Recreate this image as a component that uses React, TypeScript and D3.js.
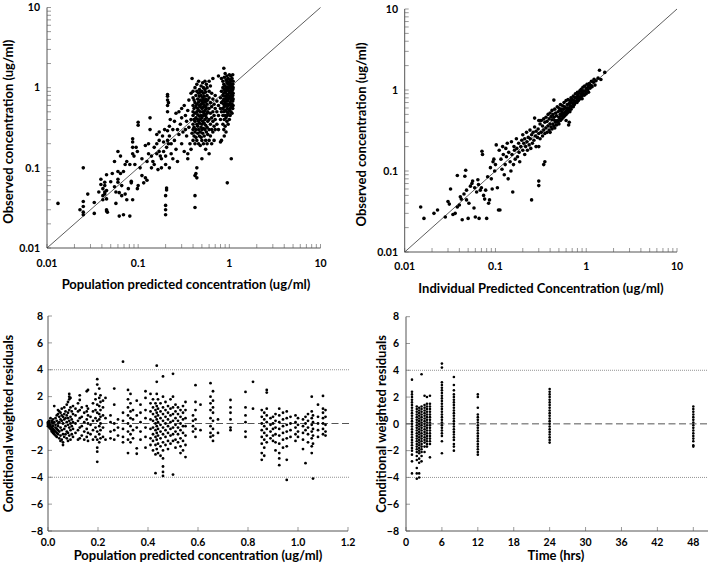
import React from "react";
import * as d3 from "d3";

// ---------- DATA ----------
const logTickLabels = ["0.01", "0.1", "1", "10"];
const logMajors = [0.01, 0.1, 1, 10];
const resTicks = [-8, -6, -4, -2, 0, 2, 4, 6, 8];
const popLinTicks = [0, 0.2, 0.4, 0.6, 0.8, 1.0, 1.2];
const timeTicks = [0, 6, 12, 18, 24, 30, 36, 42, 48];

// Panel 1: population predicted (x) vs observed (ys) columns
const popPredObs: [number, number[]][] = [
  [0.0132, [0.036]], [0.023, [0.03]], [0.025, [0.1, 0.038, 0.033, 0.028, 0.026]],
  [0.028, [0.047]], [0.033, [0.037, 0.027]], [0.037, [0.05]], [0.039, [0.072, 0.062]],
  [0.041, [0.055, 0.045, 0.04]], [0.043, [0.066, 0.05, 0.06, 0.047]],
  [0.045, [0.082, 0.03, 0.029, 0.041, 0.052]], [0.046, [0.028]], [0.05, [0.067]],
  [0.052, [0.085]], [0.055, [0.12, 0.058]], [0.057, [0.05, 0.036]],
  [0.06, [0.16, 0.09, 0.072, 0.066]], [0.062, [0.049, 0.025]], [0.064, [0.14, 0.085]],
  [0.066, [0.06, 0.045]], [0.069, [0.026, 0.09]], [0.072, [0.11, 0.047]],
  [0.075, [0.12, 0.04]], [0.078, [0.055]], [0.081, [0.11, 0.025]], [0.084, [0.068, 0.065]],
  [0.087, [0.15, 0.18, 0.21, 0.23, 0.04]], [0.09, [0.14]], [0.092, [0.11]], [0.095, [0.18]],
  [0.098, [0.16, 0.055]], [0.1, [0.37, 0.34, 0.06]],
  [0.105, [0.1]], [0.11, [0.13, 0.08]], [0.115, [0.065]], [0.12, [0.075, 0.19]],
  [0.125, [0.12, 0.07]], [0.13, [0.15, 0.2]], [0.135, [0.42, 0.3]], [0.14, [0.1, 0.14]],
  [0.145, [0.12]], [0.15, [0.18, 0.11]], [0.16, [0.26, 0.2, 0.15]], [0.165, [0.095]],
  [0.17, [0.16, 0.28, 0.22]], [0.175, [0.14]], [0.18, [0.13, 0.1]], [0.185, [0.25]],
  [0.19, [0.21, 0.16]], [0.195, [0.3]], [0.2, [0.11, 0.14, 0.034, 0.03, 0.026, 0.045]],
  [0.205, [0.053, 0.056, 0.18]], [0.21, [0.22, 0.29, 0.7, 0.82, 0.78, 0.6, 0.5]],
  [0.215, [0.65, 0.2]], [0.22, [0.1, 0.25, 0.33]], [0.225, [0.4]], [0.23, [0.2, 0.15]],
  [0.24, [0.13, 0.3]], [0.25, [0.38, 0.22]], [0.26, [0.17, 0.48]], [0.27, [0.3, 0.12]],
  [0.28, [0.26, 0.5]], [0.29, [0.35]], [0.3, [0.2, 0.42, 0.55]], [0.31, [0.28]],
  [0.32, [0.6, 0.16]], [0.33, [0.3, 0.45]], [0.34, [0.38, 0.25]], [0.35, [0.13, 0.15, 0.52]],
  [0.36, [0.7, 0.32]], [0.37, [0.2]], [0.38, [0.85, 0.4, 0.17]], [0.39, [1.3, 0.27]],
  [0.4, [0.22, 0.3, 0.45, 0.6, 0.75, 0.9, 0.35, 0.5]], [0.41, [0.25, 0.4, 0.55, 0.7, 0.32]],
  [0.42, [0.08, 0.045, 0.032, 0.2, 0.28, 0.38, 0.48, 0.65, 1.0]],
  [0.43, [0.085, 0.3, 0.42, 0.58, 0.8, 0.24]],
  [0.44, [0.075, 0.1, 0.22, 0.35, 0.5, 0.62, 0.9, 1.1]],
  [0.45, [0.27, 0.4, 0.55, 0.72, 0.33, 0.46]],
  [0.46, [0.2, 0.3, 0.38, 0.52, 0.66, 0.85, 1.2]],
  [0.47, [0.25, 0.36, 0.44, 0.6, 0.78, 0.95]],
  [0.48, [0.19, 0.28, 0.4, 0.5, 0.58, 0.7, 0.88]],
  [0.49, [0.32, 0.45, 0.62, 0.8, 1.05, 0.24]],
  [0.5, [0.13, 0.22, 0.35, 0.42, 0.55, 0.68, 0.9, 0.3]],
  [0.51, [0.27, 0.38, 0.5, 0.64, 0.75, 1.15]],
  [0.52, [0.2, 0.31, 0.45, 0.57, 0.7, 0.85, 1.0]],
  [0.53, [0.25, 0.36, 0.48, 0.6, 0.78]],
  [0.54, [0.3, 0.4, 0.52, 0.66, 0.95, 1.2]],
  [0.55, [0.17, 0.22, 0.34, 0.45, 0.58, 0.72, 0.88]],
  [0.56, [0.28, 0.42, 0.55, 0.68, 1.1]],
  [0.57, [0.2, 0.32, 0.48, 0.62, 0.8, 1.0]],
  [0.58, [0.26, 0.38, 0.5, 0.7]],
  [0.6, [0.15, 0.22, 0.3, 0.4, 0.55, 0.75, 0.9, 1.2]],
  [0.62, [0.25, 0.35, 0.48, 0.65, 1.05]],
  [0.64, [0.2, 0.3, 0.42, 0.58, 0.85]],
  [0.66, [0.28, 0.38, 0.5, 0.72, 1.3]],
  [0.68, [0.22, 0.33, 0.45, 0.62]],
  [0.7, [0.3, 0.4, 0.55, 0.8]],
  [0.73, [0.35, 0.5, 0.68]],
  [0.76, [0.3, 0.45, 0.6, 1.4]],
  [0.8, [0.21, 0.4, 0.55, 0.75]],
  [0.82, [0.22, 0.5, 0.65, 0.9, 1.3]],
  [0.85, [0.35, 0.45, 0.55, 0.68, 0.8, 1.0, 1.2]],
  [0.87, [0.3, 0.5, 0.62, 0.72, 0.85, 1.1, 1.75]],
  [0.88, [0.25, 0.4, 0.58, 0.7, 0.95, 1.35]],
  [0.9, [0.33, 0.45, 0.52, 0.65, 0.78, 0.9, 1.05, 1.5]],
  [0.92, [0.28, 0.42, 0.6, 0.72, 0.85, 1.0, 1.25]],
  [0.94, [0.38, 0.5, 0.62, 0.75, 0.92, 1.15, 1.4]],
  [0.95, [0.065, 0.45, 0.55, 0.68, 0.8, 1.0, 1.2]],
  [0.97, [0.35, 0.48, 0.6, 0.7, 0.82, 0.95, 1.1, 1.3]],
  [1.0, [0.4, 0.52, 0.62, 0.75, 0.88, 1.0, 1.15, 1.45]],
  [1.02, [0.45, 0.55, 0.65, 0.78, 0.9, 1.05, 1.25]],
  [1.04, [0.5, 0.6, 0.72, 0.85, 0.98, 1.1, 1.4]],
  [1.05, [0.13, 0.58, 0.7, 0.8, 0.92, 1.2]],
  [1.07, [0.48, 0.62, 0.75, 0.88, 1.02, 1.3]],
  [1.09, [0.55, 0.68, 0.8, 0.95, 1.1, 1.45]],
  [1.1, [0.6, 0.72, 0.85, 1.0, 1.2]],
];

// Panel 2: individual predicted vs observed pairs
const indPredObs: [number, number][] = [
  [0.015, 0.036], [0.0163, 0.026], [0.021, 0.03], [0.023, 0.033], [0.028, 0.027], [0.03, 0.042],
  [0.031, 0.039], [0.032, 0.06], [0.034, 0.029], [0.036, 0.03], [0.038, 0.088], [0.038, 0.036],
  [0.04, 0.038], [0.041, 0.048], [0.042, 0.045], [0.043, 0.025], [0.045, 0.052], [0.046, 0.086],
  [0.047, 0.102], [0.048, 0.044], [0.048, 0.058], [0.05, 0.026], [0.051, 0.04], [0.053, 0.065],
  [0.055, 0.07], [0.056, 0.075], [0.058, 0.035], [0.059, 0.062], [0.06, 0.027], [0.062, 0.055],
  [0.064, 0.078], [0.065, 0.068], [0.066, 0.026], [0.068, 0.058], [0.07, 0.062], [0.071, 0.175],
  [0.072, 0.16], [0.074, 0.05], [0.076, 0.045], [0.078, 0.058], [0.08, 0.026], [0.082, 0.085],
  [0.084, 0.04], [0.086, 0.044], [0.088, 0.11], [0.09, 0.08], [0.092, 0.06], [0.094, 0.13],
  [0.096, 0.14], [0.098, 0.1],
  [0.1, 0.12], [0.102, 0.21], [0.105, 0.062], [0.108, 0.033], [0.112, 0.033], [0.11, 0.18],
  [0.115, 0.14], [0.118, 0.105], [0.12, 0.2], [0.122, 0.16], [0.125, 0.09], [0.128, 0.12],
  [0.13, 0.19], [0.132, 0.15], [0.135, 0.22], [0.138, 0.08], [0.14, 0.17], [0.145, 0.13],
  [0.148, 0.1], [0.15, 0.23], [0.152, 0.16], [0.155, 0.055], [0.158, 0.12], [0.16, 0.2],
  [0.162, 0.18], [0.165, 0.14], [0.17, 0.25], [0.172, 0.19], [0.175, 0.15], [0.18, 0.22],
  [0.182, 0.17], [0.185, 0.13], [0.19, 0.2], [0.195, 0.24], [0.2, 0.18], [0.2, 0.28],
  [0.205, 0.22], [0.21, 0.16], [0.21, 0.25], [0.215, 0.2], [0.22, 0.3], [0.222, 0.23],
  [0.225, 0.18], [0.23, 0.26], [0.235, 0.21], [0.24, 0.32], [0.242, 0.25], [0.245, 0.19],
  [0.25, 0.044], [0.25, 0.28], [0.255, 0.22], [0.26, 0.3], [0.265, 0.24], [0.27, 0.35],
  [0.27, 0.45], [0.275, 0.27], [0.28, 0.2], [0.28, 0.31], [0.3, 0.066], [0.3, 0.075],
  [0.29, 0.26], [0.295, 0.33], [0.3, 0.42], [0.3, 0.29], [0.3, 0.2], [0.34, 0.12], [0.35, 0.13],
  [0.31, 0.42], [0.44, 0.75], [0.64, 0.37], [0.65, 0.4], [0.6, 0.42],
  [0.31, 0.25], [0.31, 0.38], [0.32, 0.3], [0.32, 0.42], [0.33, 0.27], [0.33, 0.36], [0.34, 0.32],
  [0.34, 0.44], [0.35, 0.29], [0.35, 0.4], [0.36, 0.34], [0.36, 0.46], [0.37, 0.3], [0.37, 0.41],
  [0.38, 0.36], [0.38, 0.5], [0.39, 0.32], [0.39, 0.44], [0.4, 0.3], [0.4, 0.38], [0.4, 0.52],
  [0.41, 0.35], [0.41, 0.47], [0.42, 0.33], [0.42, 0.43], [0.42, 0.56], [0.43, 0.38], [0.43, 0.5],
  [0.44, 0.36], [0.44, 0.46], [0.45, 0.34], [0.45, 0.42], [0.45, 0.58], [0.46, 0.4], [0.46, 0.52],
  [0.47, 0.37], [0.47, 0.48], [0.48, 0.42], [0.48, 0.62], [0.49, 0.4], [0.49, 0.54], [0.5, 0.38],
  [0.5, 0.46], [0.5, 0.6], [0.51, 0.44], [0.51, 0.56], [0.52, 0.42], [0.52, 0.5], [0.52, 0.66],
  [0.53, 0.48], [0.53, 0.58], [0.54, 0.44], [0.54, 0.54], [0.55, 0.5], [0.55, 0.64], [0.56, 0.46],
  [0.56, 0.58], [0.57, 0.52], [0.57, 0.7], [0.58, 0.48], [0.58, 0.62], [0.59, 0.54], [0.6, 0.5],
  [0.6, 0.6], [0.6, 0.74], [0.61, 0.56], [0.62, 0.52], [0.62, 0.66], [0.63, 0.6], [0.63, 0.76],
  [0.64, 0.56], [0.65, 0.68], [0.65, 0.6], [0.66, 0.54], [0.66, 0.74], [0.67, 0.64], [0.68, 0.58],
  [0.68, 0.8], [0.69, 0.7], [0.7, 0.62], [0.7, 0.76], [0.71, 0.68], [0.72, 0.84], [0.72, 0.62],
  [0.73, 0.74], [0.74, 0.66], [0.75, 0.8], [0.75, 0.7], [0.76, 0.9], [0.77, 0.72], [0.78, 0.82],
  [0.79, 0.7], [0.8, 0.78], [0.8, 0.94], [0.81, 0.86], [0.82, 0.74], [0.83, 0.92], [0.84, 0.82],
  [0.85, 0.98], [0.86, 0.78], [0.87, 0.9], [0.88, 1.02], [0.89, 0.84], [0.9, 0.96], [0.9, 0.78],
  [0.92, 1.08], [0.93, 0.9], [0.94, 0.98], [0.95, 0.86], [0.96, 1.12], [0.98, 0.96], [1.0, 1.04],
  [1.0, 0.9], [1.02, 1.18], [1.04, 1.0], [1.05, 1.1], [1.06, 0.94], [1.08, 1.2], [1.1, 1.05],
  [1.12, 1.14], [1.14, 1.28], [1.16, 1.1], [1.2, 1.25], [1.22, 1.36], [1.25, 1.15], [1.28, 1.3],
  [1.35, 1.4], [1.4, 1.75], [1.45, 1.35], [1.6, 1.65],
];

// Panel 3: population predicted (x) vs CWRES (ys) columns
const popPredCwres: [number, number[]][] = [
  [0.0, [0, -0.1, 0.1, -0.2]], [0.005, [-0.1, -0.3, 0.2, 0.05]], [0.01, [-0.2, -0.4, -0.1, 0.4]],
  [0.015, [-0.3, -0.5, -0.6, 0.1, 0.2]], [0.02, [-0.4, -0.7, -0.2, 0.3, 0.0]],
  [0.025, [-0.5, -0.8, -0.6, 0.1, 1.3]], [0.03, [-0.6, -0.9, -0.3, 0.4, -0.1]],
  [0.035, [-0.7, -0.4, 0.2, 0.6, -1.0]], [0.04, [-0.8, -0.5, -0.2, 0.0, 0.7, 1.0]],
  [0.045, [-1.1, -0.6, 0.1, 0.5, 0.9]], [0.05, [-0.9, -0.3, 0.3, 0.8, -1.3]],
  [0.055, [-1.2, -0.5, 0.2, 0.6, 1.1]], [0.06, [-1.6, -1.4, -0.8, 0.0, 0.5]],
  [0.065, [-1.0, -0.4, 0.3, 0.7, 1.2]], [0.07, [-0.8, -0.2, 0.4, 0.9]],
  [0.075, [-1.1, -0.6, 0.1, 0.6, 1.4]], [0.08, [-1.3, -0.7, -0.1, 0.4, 0.8, 1.6]],
  [0.085, [-0.9, -0.3, 0.2, 1.0, 1.8, 2.0, 2.2]], [0.09, [-1.2, -0.5, 0.0, 0.5, 1.2, 1.9]],
  [0.095, [-0.8, -0.2, 0.3, 0.9]], [0.1, [-1.0, -0.4, 0.1, 0.7, 1.3]],
  [0.11, [-0.7, 0.0, 0.6, 1.1]], [0.12, [-1.2, -0.5, 0.2, 0.9, 1.5]],
  [0.127, [-1.1, -0.3, 0.4, 1.0, 1.75, 2.1]], [0.135, [-0.9, -0.2, 0.5, 1.2]],
  [0.145, [-1.2, -0.6, 0.1, 0.8]], [0.155, [-1.0, -0.4, 0.3, 0.9, 1.3, 2.4]],
  [0.16, [-1.3, -0.7, 0.0, 0.6, 1.1, 2.5]], [0.17, [-0.8, -0.1, 0.5]],
  [0.18, [-1.2, -0.5, 0.2, 0.9, 1.5]], [0.19, [-1.0, -0.3, 0.4, 1.0, 1.8, 2.2]],
  [0.197, [3.3, 2.9, -1.8, -2.1, -2.85, -1.2, -0.6, 0.2, 0.8, 1.4]],
  [0.205, [2.6, 1.9, 1.3, 0.7, 0.3, -0.2, -0.8, -1.4]],
  [0.21, [2.1, 1.6, 1.0, 0.5, 0.0, -0.5, -1.1]], [0.22, [1.7, 1.2, 0.6, -0.3, -1.0]],
  [0.23, [1.9, -1.2, 0.4]], [0.25, [0.1, -0.6, -1.1, 0.6]], [0.265, [2.6, 1.4, 0.0, -0.5, -1.2]],
  [0.28, [-0.3, -0.9, 0.3]], [0.3, [4.6, 0.8, 0.2, -0.4, -1.0, -1.4]],
  [0.32, [2.5, 1.8, 1.2, 0.6, 0.0, -0.6, -1.2, -2.2]],
  [0.33, [2.2, 1.5, 0.9, 0.4, -0.2, -0.8, -1.4]], [0.34, [1.0, 0.3, -0.5, -1.1]],
  [0.355, [1.7, 0.6, -0.3, -1.85, -2.25]], [0.37, [1.4, 0.8, 0.1, -0.6, -1.2]],
  [0.39, [2.4, 1.9, 1.0, 0.4, -0.3, -1.0, -1.8]], [0.41, [2.2, 1.5, 0.9, 0.3, -0.4, -1.1, -1.6]],
  [0.42, [1.8, 1.2, 0.7, 0.2, -0.3, -0.8, -1.3, -2.0]],
  [0.43, [1.5, 1.0, 0.5, 0.0, -0.5, -1.0, -1.6, -2.3, -3.7]],
  [0.435, [4.3, 3.1, 2.2, 1.3, 0.8, 0.3, -0.2, -0.7, -1.2, -1.9]],
  [0.44, [1.8, 1.1, 0.6, 0.1, -0.4, -0.9, -1.5, -2.2]],
  [0.45, [1.5, 0.9, 0.4, -0.1, -0.6, -1.1, -1.7, -2.4]],
  [0.46, [3.5, 2.0, 1.2, 0.7, 0.2, -0.3, -0.8, -1.4, -2.0, -2.6, -3.2, -3.6, -3.9]],
  [0.47, [1.6, 1.0, 0.5, 0.0, -0.5, -1.0, -1.6]], [0.48, [1.3, 0.8, 0.3, -0.2, -0.7, -1.3, -1.9]],
  [0.49, [1.8, 1.1, 0.6, 0.1, -0.4, -0.9, -1.5]],
  [0.5, [3.7, 2.0, 1.2, 0.7, 0.2, -0.3, -0.8, -1.3, -3.8]],
  [0.51, [1.4, 0.9, 0.4, -0.1, -0.6, -1.2, -1.8]], [0.52, [1.2, 0.7, 0.2, -0.3, -0.8, -1.4]],
  [0.53, [1.0, 0.5, 0.0, -0.5, -1.1, -1.7, -2.2]], [0.54, [1.3, 0.8, 0.3, -0.2, -0.7, -1.3, -2.0]],
  [0.55, [1.6, 1.0, 0.4, -0.2, -0.9, -1.6, -2.5]], [0.58, [0.6, 0.2, -0.2, -0.6]],
  [0.59, [2.85, 1.6, 1.0, 0.3, -0.4, -1.0]], [0.61, [1.4, -0.5]],
  [0.65, [3.0, 2.0, 1.5, 1.0, 0.4, -0.2, -0.7, -1.0]],
  [0.66, [2.4, 1.7, 1.2, 0.8, 0.2, -0.4, -0.9, -1.3]], [0.68, [0.3, -0.7]],
  [0.73, [1.75, 1.2, 0.8, 0.3, -0.3, -0.5]], [0.79, [2.35, 1.2, 0.6, 0.1, -0.6, -1.0]],
  [0.82, [3.1, 1.1]], [0.855, [1.0, 0.5, 0.0, -0.5, -1.0, -1.5, -2.2, -2.7]],
  [0.865, [0.8, 0.3, -0.2, -0.7, -1.2, -1.8, -2.4]],
  [0.875, [2.5, 2.3, 1.1, 0.6, 0.1, -0.4, -0.9, -1.4]], [0.89, [0.4, -0.1, -0.6, -1.1]],
  [0.9, [0.5, 0.0, -0.4, -0.9, -1.3]], [0.91, [0.7, 0.2, -0.3, -0.8, -1.4, -2.0]],
  [0.925, [1.1, 0.6, 0.1, -0.4, -0.9, -1.5, -2.2, -2.6, -3.1]],
  [0.94, [0.8, 0.3, -0.2, -0.7, -1.2, -1.8]],
  [0.955, [0.9, 0.4, -0.1, -0.6, -1.1, -1.7, -2.7, -4.2]], [0.97, [0.5, 0.0, -0.5, -1.0]],
  [0.99, [0.6, 0.1, -0.3, -0.8, -1.3]], [1.0, [0.4, -0.1, -0.6, -1.0]],
  [1.02, [0.3, -0.2, -0.7, -1.2, -1.9]], [1.03, [0.5, 0.0, -0.5, -2.95]],
  [1.04, [0.7, 0.2, -0.3, -0.8, -1.4]], [1.055, [2.0, 0.9, 0.4, -0.1, -0.6, -1.1, -1.7, -2.2]],
  [1.06, [0.6, 0.1, -0.4, -0.9, -1.5, -4.1]], [1.08, [1.4, 0.5, 0.0, -0.5, -1.0]],
  [1.1, [2.05, 1.1, 0.8, 0.4, 0.0, -0.4, -0.8]], [1.11, [1.0, 0.5, -0.1, -0.6, -0.9]],
];

// Panel 4: time (x) vs CWRES (ys) columns
const timeCwres: [number, number[]][] = [
  [1.0, [3.3, 2.4, 2.2, 2.0, 1.8, 1.6, 1.4, 1.2, 1.0, 0.8, 0.6, 0.4, 0.2, 0.0, -0.2, -0.4, -0.6, -0.8, -1.0, -1.2, -1.4, -1.6, -1.8, -2.0, -2.3, -2.8, -3.7]],
  [1.8, [1.3, 1.1, 0.9, 0.7, 0.5, 0.3, 0.1, -0.1, -0.3, -0.5, -0.7, -0.9, -1.1, -1.3, -1.5, -1.7, -1.9, -2.1, -2.4, -2.7, -3.3, -3.7, -4.1]],
  [2.2, [1.2, 1.0, 0.8, 0.6, 0.4, 0.2, 0.0, -0.2, -0.4, -0.6, -0.8, -1.0, -1.2, -1.4, -1.6, -1.8, -2.0, -2.2, -2.6, -2.9, -3.7, -4.0]],
  [2.6, [3.7, 1.3, 1.1, 0.9, 0.7, 0.5, 0.3, 0.1, -0.1, -0.3, -0.5, -0.7, -0.9, -1.1, -1.3, -1.5, -1.7, -1.9, -2.1, -2.4, -2.8]],
  [3.1, [2.1, 1.4, 1.2, 1.0, 0.8, 0.6, 0.4, 0.2, 0.0, -0.2, -0.4, -0.6, -0.8, -1.0, -1.2, -1.4, -1.7, -2.1]],
  [3.5, [2.0, 1.5, 1.3, 1.1, 0.9, 0.7, 0.5, 0.3, 0.1, -0.1, -0.3, -0.5, -0.7, -0.9, -1.1, -1.3, -1.5, -1.7]],
  [4.0, [2.1, 1.5, 1.3, 1.1, 0.9, 0.7, 0.5, 0.3, 0.1, -0.1, -0.3, -0.5, -0.7, -0.9, -1.1, -1.3, -1.5, -2.5]],
  [6.0, [4.5, 4.2, 3.1, 2.9, 2.7, 2.5, 2.3, 2.1, 1.9, 1.7, 1.5, 1.3, 1.1, 0.9, 0.7, 0.5, 0.3, 0.1, -0.1, -0.3, -0.5, -0.7, -0.9, -1.3, -2.2]],
  [8.0, [3.5, 2.9, 2.5, 2.2, 2.0, 1.8, 1.6, 1.4, 1.2, 1.0, 0.8, 0.6, 0.4, 0.2, 0.0, -0.2, -0.4, -0.6, -0.8, -1.0, -1.2, -1.5, -1.7, -2.0]],
  [12.0, [2.2, 2.0, 1.2, 0.7, 0.5, 0.3, 0.1, -0.1, -0.3, -0.5, -0.7, -0.9, -1.1, -1.3, -1.5, -1.7, -1.9, -2.1, -2.3]],
  [24.0, [2.6, 2.4, 2.2, 2.0, 1.8, 1.6, 1.4, 1.2, 1.0, 0.8, 0.6, 0.4, 0.2, 0.0, -0.2, -0.4, -0.6, -0.8, -1.0, -1.2, -1.4]],
  [48.0, [1.3, 1.1, 0.9, 0.7, 0.5, 0.3, 0.1, -0.1, -0.3, -0.5, -0.7, -0.9, -1.1, -1.3, -1.6, -1.7]],
];

// ---------- STYLES ----------
const FONT = "Lato, 'Open Sans', sans-serif";
const AXIS = "#555";
const TICK = "#999";
const TICKLEN = 4;
const TITLE_SIZE = 13;
const LABEL_SIZE = 10.5;

function logMinor(): number[] {
  const out: number[] = [];
  for (const d of [0.01, 0.1, 1]) for (let k = 1; k <= 9; k++) out.push(+(k * d).toPrecision(3));
  out.push(10);
  return out;
}

type LogPanelProps = {
  x0: number; x1: number; y0: number; y1: number;
  xTitle: string; yTitle: string; yTitleX: number; yLabelX: number;
  xLabelY: number; xTitleY: number; xTitleCx: number;
  points: [number, number][];
};

function LogPanel(p: LogPanelProps) {
  const xs = d3.scaleLog().domain([0.01, 10]).range([p.x0, p.x1]);
  const ys = d3.scaleLog().domain([0.01, 10]).range([p.y0, p.y1]);
  const minors = logMinor();
  const line = d3.line<number>().x((v) => xs(v)).y((v) => ys(v));
  return (
    <g>
      {minors.map((v, i) => (
        <line key={"xt" + i} x1={xs(v)} x2={xs(v)} y1={p.y0} y2={p.y0 - TICKLEN} stroke={TICK} strokeWidth={1} />
      ))}
      {minors.map((v, i) => (
        <line key={"yt" + i} x1={p.x0} x2={p.x0 + TICKLEN} y1={ys(v)} y2={ys(v)} stroke={TICK} strokeWidth={1} />
      ))}
      <line x1={p.x0} x2={p.x1} y1={p.y0} y2={p.y0} stroke={AXIS} strokeWidth={1} />
      <line x1={p.x0} x2={p.x0} y1={p.y0} y2={p.y1} stroke={AXIS} strokeWidth={1} />
      <path d={line([0.01, 10]) || ""} stroke="#333" strokeWidth={0.8} fill="none" />
      {p.points.map(([x, y], i) => (
        <circle key={"pt" + i} cx={xs(x)} cy={ys(y)} r={1.8} fill="#000" />
      ))}
      {logMajors.map((v, i) => (
        <text key={"xl" + i} x={xs(v)} y={p.xLabelY} textAnchor="middle" fontSize={LABEL_SIZE} fontWeight="bold" fontFamily={FONT}>{logTickLabels[i]}</text>
      ))}
      {logMajors.map((v, i) => (
        <text key={"yl" + i} x={p.yLabelX} y={ys(v)} dy="0.35em" textAnchor="end" fontSize={LABEL_SIZE} fontWeight="bold" fontFamily={FONT}>{logTickLabels[i]}</text>
      ))}
      <text x={p.xTitleCx} y={p.xTitleY} textAnchor="middle" fontSize={TITLE_SIZE} fontWeight="bold" fontFamily={FONT}>{p.xTitle}</text>
      <text transform={`translate(${p.yTitleX},${(p.y0 + p.y1) / 2 + 4}) rotate(-90)`} textAnchor="middle" dy="0.35em" fontSize={TITLE_SIZE} fontWeight="bold" fontFamily={FONT}>{p.yTitle}</text>
    </g>
  );
}

type ResPanelProps = {
  x0: number; x1: number; y0: number; y1: number; refEnd: number; axisEnd: number;
  domainMax: number; xTicks: number[]; fmt: (v: number) => string;
  xTitle: string; xTitleCx: number; yTitleX: number; yLabelX: number; r: number;
  cols: [number, number[]][];
};

function ResPanel(p: ResPanelProps) {
  const xs = d3.scaleLinear().domain([0, p.domainMax]).range([p.x0, p.x1]);
  const ys = d3.scaleLinear().domain([-8, 8]).range([p.y0, p.y1]);
  const minus = (v: number) => (v < 0 ? "\u2212" + Math.abs(v) : String(v));
  return (
    <g>
      {p.xTicks.map((v, i) => (
        <line key={"xt" + i} x1={xs(v)} x2={xs(v)} y1={p.y0} y2={p.y0 - TICKLEN} stroke={TICK} />
      ))}
      {resTicks.map((v, i) => (
        <line key={"yt" + i} x1={p.x0} x2={p.x0 + TICKLEN} y1={ys(v)} y2={ys(v)} stroke={TICK} />
      ))}
      <line x1={p.x0} x2={p.axisEnd} y1={p.y0} y2={p.y0} stroke={AXIS} />
      <line x1={p.x0} x2={p.x0} y1={p.y0} y2={p.y1} stroke={AXIS} />
      {[4, -4].map((v) => (
        <line key={"ref" + v} x1={p.x0} x2={p.refEnd} y1={ys(v)} y2={ys(v)} stroke="#777" strokeWidth={0.8} strokeDasharray="1,1" />
      ))}
      <line x1={p.x0} x2={p.refEnd} y1={ys(0)} y2={ys(0)} stroke="#555" strokeWidth={1} strokeDasharray="7,3.5" />
      {p.cols.flatMap(([x, vals], i) =>
        vals.map((y, j) => <circle key={`p${i}_${j}`} cx={xs(x)} cy={ys(y)} r={p.r} fill="#000" />)
      )}
      {p.xTicks.map((v, i) => (
        <text key={"xl" + i} x={xs(v)} y={546} textAnchor="middle" fontSize={LABEL_SIZE} fontWeight="bold" fontFamily={FONT}>{p.fmt(v)}</text>
      ))}
      {resTicks.map((v, i) => (
        <text key={"yl" + i} x={p.yLabelX} y={ys(v)} dy="0.35em" textAnchor="end" fontSize={LABEL_SIZE} fontWeight="bold" fontFamily={FONT}>{minus(v)}</text>
      ))}
      <text x={p.xTitleCx} y={560} textAnchor="middle" fontSize={TITLE_SIZE} fontWeight="bold" fontFamily={FONT}>{p.xTitle}</text>
      <text transform={`translate(${p.yTitleX},${(p.y0 + p.y1) / 2}) rotate(-90)`} textAnchor="middle" dy="0.35em" fontSize={TITLE_SIZE} fontWeight="bold" fontFamily={FONT}>Conditional weighted residuals</text>
    </g>
  );
}

export default function App() {
  const p1pts: [number, number][] = popPredObs.flatMap(([x, ys]) => ys.map((y) => [x, y] as [number, number]));
  return (
    <svg width={708} height={569} style={{ position: "absolute", left: 0, top: 0, background: "#fff" }}>
      <LogPanel x0={47} x1={320.5} y0={248} y1={7.5} xTitle="Population predicted concentration (ug/ml)"
        yTitle="Observed concentration (ug/ml)" yTitleX={8} yLabelX={40} xLabelY={267} xTitleY={289} xTitleCx={186}
        points={p1pts} />
      <LogPanel x0={404.7} x1={677} y0={252} y1={9} xTitle="Individual Predicted Concentration (ug/ml)"
        yTitle="Observed concentration (ug/ml)" yTitleX={361} yLabelX={398} xLabelY={270} xTitleY={293} xTitleCx={541}
        points={indPredObs} />
      <ResPanel x0={48} x1={348} y0={531} y1={316} refEnd={349} axisEnd={348} domainMax={1.2}
        xTicks={popLinTicks} fmt={(v) => v.toFixed(1)} xTitle="Population predicted concentration (ug/ml)"
        xTitleCx={198} yTitleX={8} yLabelX={43} r={1.4} cols={popPredCwres} />
      <ResPanel x0={406} x1={693.3} y0={531} y1={316.7} refEnd={708} axisEnd={708} domainMax={48}
        xTicks={timeTicks} fmt={(v) => String(v)} xTitle="Time (hrs)"
        xTitleCx={556} yTitleX={381} yLabelX={399} r={1.3} cols={timeCwres} />
    </svg>
  );
}
